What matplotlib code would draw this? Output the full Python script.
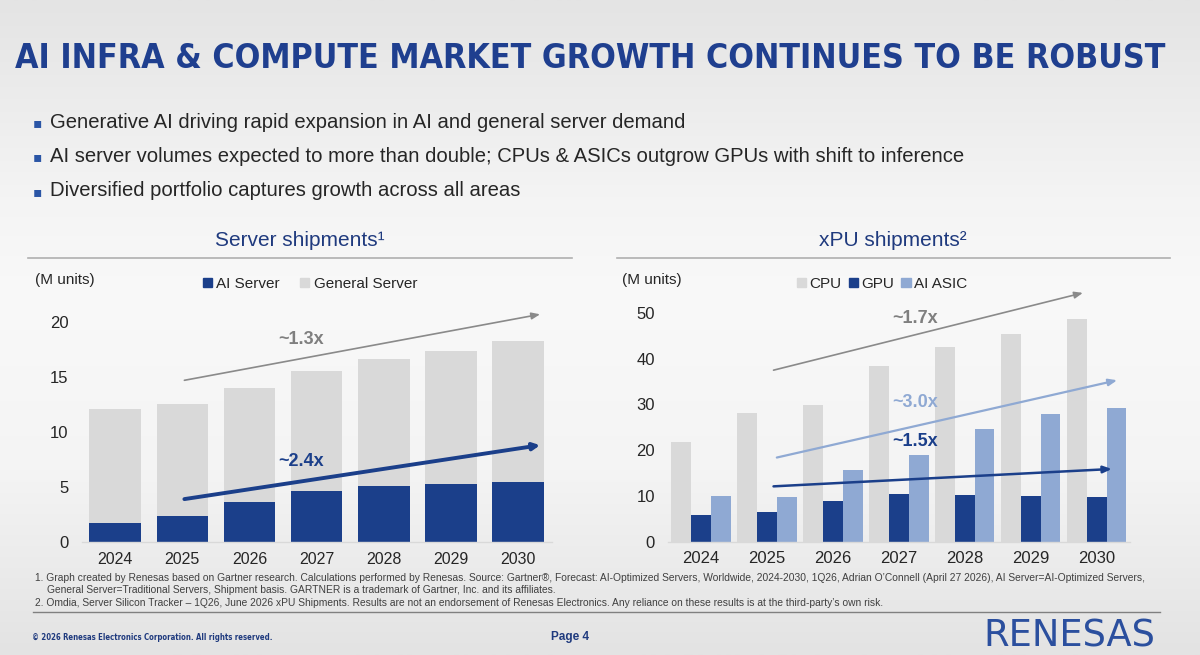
import matplotlib
matplotlib.use("Agg")
import matplotlib.pyplot as plt
import numpy as np
from matplotlib import font_manager as fm
from matplotlib.colors import LinearSegmentedColormap
from matplotlib.lines import Line2D
from matplotlib.patches import Patch

# ---------------- data ----------------
years = ["2024", "2025", "2026", "2027", "2028", "2029", "2030"]

ai_server = [1.7, 2.35, 3.65, 4.6, 5.1, 5.3, 5.45]
general_server = [10.35, 10.15, 10.35, 10.9, 11.5, 12.1, 12.8]

cpu = [21.9, 28.1, 29.8, 38.4, 42.5, 45.4, 48.75]
gpu = [5.85, 6.45, 9.0, 10.4, 10.15, 10.0, 9.7]
ai_asic = [10.0, 9.7, 15.6, 18.9, 24.7, 27.9, 29.3]

server_yticks = [0, 5, 10, 15, 20]
xpu_yticks = [0, 10, 20, 30, 40, 50]

# growth arrows: (start x, start y, end x, end y) in data units
server_arrow_total = (1.03, 14.7, 6.33, 20.7)
server_arrow_ai = (1.03, 3.9, 6.33, 8.8)
xpu_arrow_cpu = (1.10, 37.5, 5.79, 54.4)
xpu_arrow_asic = (1.15, 18.4, 6.31, 35.3)
xpu_arrow_gpu = (1.10, 12.1, 6.23, 15.9)

server_labels = [("~1.3x", 2.77, 18.45), ("~2.4x", 2.77, 7.3)]
xpu_labels = [("~1.7x", 3.24, 48.9), ("~3.0x", 3.24, 30.5), ("~1.5x", 3.24, 22.0)]

title = "AI INFRA & COMPUTE MARKET GROWTH CONTINUES TO BE ROBUST"
bullets = [
    "Generative AI driving rapid expansion in AI and general server demand",
    "AI server volumes expected to more than double; CPUs & ASICs outgrow GPUs with shift to inference",
    "Diversified portfolio captures growth across all areas",
]
footnotes = [
    "1. Graph created by Renesas based on Gartner research. Calculations performed by Renesas. Source: Gartner\u00ae, Forecast: AI-Optimized Servers, Worldwide, 2024-2030, 1Q26, Adrian O\u2019Connell (April 27 2026), AI Server=AI-Optimized Servers,",
    "General Server=Traditional Servers, Shipment basis. GARTNER is a trademark of Gartner, Inc. and its affiliates.",
    "2. Omdia, Server Silicon Tracker \u2013 1Q26, June 2026 xPU Shipments. Results are not an endorsement of Renesas Electronics. Any reliance on these results is at the third-party\u2019s own risk.",
]

# ---------------- style ----------------
names = {f.name for f in fm.fontManager.ttflist}
BASE = "Liberation Sans" if "Liberation Sans" in names else "DejaVu Sans"
if "Liberation Sans Narrow" in names:
    NARROW, NSTRETCH = "Liberation Sans Narrow", "normal"
elif any(f.name == "DejaVu Sans" and f.stretch == "condensed" for f in fm.fontManager.ttflist):
    NARROW, NSTRETCH = "DejaVu Sans", "condensed"
else:
    NARROW, NSTRETCH = BASE, "normal"
plt.rcParams["font.family"] = [BASE, "DejaVu Sans"]

DARK = "#1b3f8a"
GREY = "#d9d9d9"
LIGHT = "#8fa9d3"
TITLE_BLUE = "#1f3f8f"
SUB_BLUE = "#1f3a7e"
ARROW_GREY = "#8a8a8a"
LABEL_GREY = "#7f7f7f"
TXT = "#262626"

W, H = 1200, 655
fig = plt.figure(figsize=(W / 100, H / 100), dpi=100)
renderer = fig.canvas.get_renderer()


def fx(x):
    return x / W


def fy(y):
    return 1 - y / H


def fit_width(t, target):
    for _ in range(3):
        w = t.get_window_extent(renderer).width
        t.set_fontsize(t.get_fontsize() * target / w)


# background gradient
bg = fig.add_axes([0, 0, 1, 1], zorder=-10)
cmap = LinearSegmentedColormap.from_list(
    "bg", [(0.0, "#e4e4e4"), (0.3, "#f4f4f4"), (0.45, "#f9f9f9"), (0.72, "#f4f4f4"), (1.0, "#e3e3e3")]
)
grad = np.linspace(0, 1, 256).reshape(-1, 1)
bg.imshow(grad, aspect="auto", cmap=cmap, extent=[0, 1, 0, 1], origin="upper")
bg.set_xlim(0, 1)
bg.set_ylim(0, 1)
bg.axis("off")

# title
tt = fig.text(fx(15), fy(59), title, fontsize=30, fontweight="bold", color=TITLE_BLUE,
              family=[NARROW, "DejaVu Sans"], fontstretch=NSTRETCH, ha="left", va="center")
fit_width(tt, 1150)

# bullets
btexts = []
for i, b in enumerate(bullets):
    yy = 122 + i * 34.5
    fig.text(fx(33), fy(yy + 1), "\u25aa", fontsize=10, color="#2a55a5", family="DejaVu Sans",
             ha="left", va="center")
    btexts.append(fig.text(fx(50), fy(yy), b, fontsize=14.5, color=TXT, ha="left", va="center"))
fit_width(btexts[1], 914)
for t in btexts:
    t.set_fontsize(btexts[1].get_fontsize())

# section titles and rules
fig.text(fx(300), fy(241), "Server shipments\u00b9", fontsize=15, color=SUB_BLUE, ha="center", va="center")
fig.text(fx(893), fy(241), "xPU shipments\u00b2", fontsize=15, color=SUB_BLUE, ha="center", va="center")
fig.add_artist(Line2D([fx(28), fx(572)], [fy(258), fy(258)], color="#b0b0b0", lw=1.2))
fig.add_artist(Line2D([fx(617), fx(1170)], [fy(258), fy(258)], color="#b0b0b0", lw=1.2))

fig.text(fx(35), fy(280), "(M units)", fontsize=11, color=TXT, ha="left", va="center")
fig.text(fx(622), fy(280), "(M units)", fontsize=11, color=TXT, ha="left", va="center")


def style_axes(ax, yticks, xfs):
    ax.set_facecolor("none")
    for s in ["top", "right", "left"]:
        ax.spines[s].set_visible(False)
    ax.spines["bottom"].set_color("#d9d9d9")
    ax.spines["bottom"].set_linewidth(1.0)
    ax.set_yticks(yticks)
    ax.set_yticklabels([str(t) for t in yticks], fontsize=12, color=TXT)
    ax.tick_params(axis="both", length=0)
    ax.tick_params(axis="y", pad=9.5)
    ax.tick_params(axis="x", pad=7, labelsize=xfs, labelcolor=TXT)
    ax.set_xlim(-0.5, 6.5)


def arrow(ax, coords, color, lw, hl, hw):
    x0, y0, x1, y1 = coords
    ax.annotate("", xy=(x1, y1), xytext=(x0, y0), annotation_clip=False,
                arrowprops=dict(arrowstyle=f"-|>,head_length={hl},head_width={hw}", color=color,
                                lw=lw, shrinkA=0, shrinkB=0))


# ---------------- left chart ----------------
ax1 = fig.add_axes([fx(81.7), fy(542), (551.5 - 81.7) / W, (542 - 322) / H])
x = np.arange(len(years))
ax1.bar(x, ai_server, width=0.77, color=DARK, label="AI Server", zorder=2)
ax1.bar(x, general_server, width=0.77, bottom=ai_server, color=GREY, label="General Server", zorder=2)
ax1.set_ylim(0, 20)
ax1.set_xticks(x)
ax1.set_xticklabels(years)
style_axes(ax1, server_yticks, 11.5)
arrow(ax1, server_arrow_total, ARROW_GREY, 1.2, 0.5, 0.2)
arrow(ax1, server_arrow_ai, DARK, 2.8, 0.4, 0.2)
ax1.text(server_labels[0][1], server_labels[0][2], server_labels[0][0], fontsize=13, fontweight="bold",
         color=LABEL_GREY, ha="center", va="center")
ax1.text(server_labels[1][1], server_labels[1][2], server_labels[1][0], fontsize=13, fontweight="bold",
         color=DARK, ha="center", va="center")
h1 = [Patch(color=DARK), Patch(color=GREY)]
fig.legend(h1, ["AI Server", "General Server"], loc="center left", bbox_to_anchor=(fx(195), fy(284)),
           ncol=2, frameon=False, fontsize=11, handlelength=0.6, handleheight=0.6, handletextpad=0.3,
           columnspacing=1.3, labelcolor=TXT, borderpad=0)

# ---------------- right chart ----------------
ax2 = fig.add_axes([fx(668), fy(541.7), (1129.7 - 668) / W, (541.7 - 313) / H])
bw = 0.3
ax2.bar(x - bw, cpu, width=bw, color=GREY, label="CPU", zorder=2)
ax2.bar(x, gpu, width=bw, color=DARK, label="GPU", zorder=2)
ax2.bar(x + bw, ai_asic, width=bw, color=LIGHT, label="AI ASIC", zorder=2)
ax2.set_ylim(0, 50)
ax2.set_xticks(x)
ax2.set_xticklabels(years)
style_axes(ax2, xpu_yticks, 12)
arrow(ax2, xpu_arrow_cpu, ARROW_GREY, 1.2, 0.5, 0.2)
arrow(ax2, xpu_arrow_asic, LIGHT, 1.6, 0.5, 0.2)
arrow(ax2, xpu_arrow_gpu, DARK, 1.8, 0.5, 0.2)
for (t, xx, yy), c in zip(xpu_labels, [LABEL_GREY, LIGHT, DARK]):
    ax2.text(xx, yy, t, fontsize=13, fontweight="bold", color=c, ha="center", va="center")
h2 = [Patch(color=GREY), Patch(color=DARK), Patch(color=LIGHT)]
fig.legend(h2, ["CPU", "GPU", "AI ASIC"], loc="center left", bbox_to_anchor=(fx(789), fy(284)),
           ncol=3, frameon=False, fontsize=11, handlelength=0.6, handleheight=0.6, handletextpad=0.2,
           columnspacing=0.5, labelcolor=TXT, borderpad=0)

# ---------------- footnotes & footer ----------------
f1 = fig.text(fx(35), fy(578), footnotes[0], fontsize=7.3, color="#404040", ha="left", va="center")
fit_width(f1, 1122)
fs = f1.get_fontsize()
fig.text(fx(47), fy(590), footnotes[1], fontsize=fs, color="#404040", ha="left", va="center")
fig.text(fx(35), fy(603), footnotes[2], fontsize=fs, color="#404040", ha="left", va="center")
fig.add_artist(Line2D([fx(33), fx(1160)], [fy(612), fy(612)], color="#808080", lw=1.0))

ct = fig.text(fx(32), fy(638), "\u00a9 2026 Renesas Electronics Corporation. All rights reserved.", fontsize=6.8,
              fontweight="bold", color=SUB_BLUE, family=[NARROW, "DejaVu Sans"], fontstretch=NSTRETCH,
              ha="left", va="center")
fit_width(ct, 240)
fig.text(fx(570), fy(637), "Page 4", fontsize=8.5, fontweight="bold", color=SUB_BLUE, ha="center", va="center")
lg = fig.text(fx(983), fy(636), "RENESAS", fontsize=25, color="#2b4f9e", family="DejaVu Sans",
              ha="left", va="center")
fit_width(lg, 172)

fig.savefig("out.png", dpi=100)
